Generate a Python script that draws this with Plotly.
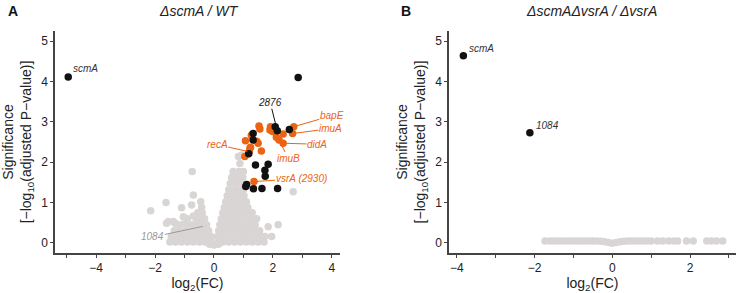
import plotly.graph_objects as go

# ---------------- Panel A data (ΔscmA / WT) ----------------
grayA_x = [
    -2.15, -1.63, -0.74, -0.70, -0.45, -0.76, -1.10, -1.04, -0.70, -1.55, -1.32, -1.04, -1.15,
    2.69, 2.18, 1.96, 1.73, 1.84, 0.83, 0.88, 0.94, -1.38, -1.61,
    -1.5, -1.3, -1.1, -0.9, -0.7, -0.5, -0.3, -0.1, 0.1, 0.3, 0.5, 0.7, 0.9, 1.1, 1.3, 1.5, 1.7, 0.0, -0.15, 0.15,
    -1.45, -1.25, -1.05, -0.85, -0.65, -0.45, -0.25, -0.08, 0.12, 0.3, 0.5, 0.7, 0.9, 1.1, 1.3, 1.5, 1.65,
    -1.35, -1.15, -0.95, -0.75, -0.55, -0.35, -0.18, 0.16, 0.35, 0.55, 0.75, 0.95, 1.15, 1.35, 1.55,
    -1.2, -0.95, -0.75, -0.55, -0.38, -0.25, 0.2, 0.4, 0.6, 0.8, 1.0, 1.2, 1.4,
    -0.9, -0.6, -0.45, -0.32, 0.25, 0.45, 0.65, 0.85, 1.05, 1.25, 1.45,
    -0.55, -0.4, 0.3, 0.5, 0.7, 0.9, 1.1, 1.3,
    -0.42, 0.35, 0.55, 0.75, 0.95, 1.15,
    0.4, 0.6, 0.8, 1.0, 1.1,
    0.45, 0.65, 0.85, 1.02,
    0.5, 0.7, 0.9, 1.0,
    0.55, 0.75, 0.95,
    0.6, 0.8, 0.98,
    0.65, 0.85, 1.0,
]
grayA_y = [
    0.80, 1.00, 1.77, 1.19, 1.02, 0.94, 0.87, 0.65, 0.67, 0.53, 0.49, 0.47, 0.20,
    1.27, 0.45, 0.16, 0.16, 0.40, 2.14, 1.97, 2.18, 0.53, 0.49,
    0.02, 0.02, 0.02, 0.02, 0.02, 0.02, 0.02, 0.0, 0.0, 0.02, 0.02, 0.02, 0.02, 0.02, 0.02, 0.02, 0.02, -0.05, -0.03, -0.03,
    0.15, 0.15, 0.15, 0.15, 0.15, 0.15, 0.15, 0.15, 0.15, 0.15, 0.15, 0.15, 0.15, 0.15, 0.15, 0.15, 0.15,
    0.3, 0.3, 0.3, 0.3, 0.3, 0.3, 0.3, 0.3, 0.3, 0.3, 0.3, 0.3, 0.3, 0.3, 0.3,
    0.45, 0.45, 0.45, 0.45, 0.45, 0.45, 0.45, 0.45, 0.45, 0.45, 0.45, 0.45, 0.45,
    0.6, 0.6, 0.6, 0.6, 0.6, 0.6, 0.6, 0.6, 0.6, 0.6, 0.6,
    0.75, 0.75, 0.75, 0.75, 0.75, 0.75, 0.75, 0.75,
    0.88, 0.88, 0.88, 0.88, 0.88, 0.88,
    1.02, 1.02, 1.02, 1.02, 1.02,
    1.17, 1.17, 1.17, 1.17,
    1.32, 1.32, 1.32, 1.32,
    1.47, 1.47, 1.47,
    1.62, 1.62, 1.62,
    1.77, 1.77, 1.77,
]

orangeA_x = [2.71, 2.67, 2.35, 1.92, 1.90, 1.99, 2.12, 2.21, 2.35, 1.53, 1.56, 1.27, 1.45,
             1.07, 1.24, 1.61, 1.20, 1.05, 1.36, 1.50, 1.22]
orangeA_y = [2.88, 2.71, 2.70, 2.88, 2.80, 2.76, 2.62, 2.55, 2.47, 2.90, 2.82, 2.67, 2.52,
             2.53, 2.37, 2.28, 2.26, 2.14, 1.52, 2.47, 2.34]

blackA_x = [-4.95, 2.86, 2.08, 2.15, 2.56, 1.33, 1.33, 1.18, 1.41, 1.84, 1.73, 1.74,
            1.11, 1.08, 1.34, 1.63, 2.16]
blackA_y = [4.11, 4.10, 2.88, 2.78, 2.81, 2.71, 2.55, 2.21, 1.93, 1.95, 1.80, 1.65,
            1.45, 1.40, 1.34, 1.35, 1.35]

# labelled genes with leader lines (panel A)
labA_text = ["2876", "bapE", "imuA", "didA", "imuB", "recA", "vsrA (2930)", "1084"]
labA_x = [2.15, 2.71, 2.67, 2.35, 2.21, 1.20, 1.36, -0.31]
labA_y = [2.78, 2.88, 2.71, 2.47, 2.55, 2.26, 1.52, 0.42]
labA_kind = ["black", "orange", "orange", "orange", "orange", "orange", "orange", "gray"]

# ---------------- Panel B data (ΔscmAΔvsrA / ΔvsrA) ----------------
grayB_x = [-1.73, -1.6, -1.5, -1.4, -1.3, -1.2, -1.1, -1.0, -0.9, -0.8, -0.7, -0.6, -0.5,
           -0.4, -0.3, -0.2, -0.1, 0.0, 0.1, 0.2, 0.3, 0.4, 0.5, 0.6, 0.7, 0.8, 0.9, 1.0,
           1.16, 1.3, 1.45, 1.58, 1.68, 1.91, 2.08, 2.43, 2.55, 2.68, 2.84]
grayB_y = [0.05, 0.05, 0.05, 0.05, 0.05, 0.05, 0.05, 0.05, 0.05, 0.05, 0.05, 0.05, 0.05,
           0.05, 0.04, 0.03, 0.01, -0.01, 0.01, 0.03, 0.04, 0.05, 0.05, 0.05, 0.05, 0.05, 0.05, 0.05,
           0.05, 0.05, 0.05, 0.05, 0.05, 0.05, 0.05, 0.05, 0.05, 0.05, 0.05]
blackB_x = [-3.83, -2.12]
blackB_y = [4.64, 2.73]
labB_text = ["scmA", "1084"]

# axis ticks: a tick mark at every integer, a label at every even value
x_tick_vals = [-5, -4, -3, -2, -1, 0, 1, 2, 3, 4]
x_tick_text = ["", "−4", "", "−2", "", "0", "", "2", "", "4"]
y_vals = [0, 1, 2, 3, 4, 5]

GRAY = "#d9d5d5"
ORANGE = "#ea6414"
BLACK = "#111111"
AXC = "#444444"
FONT = "Liberation Sans, Arial, sans-serif"
MS = 7.5

XA_RANGE = [-5.40, 4.28]
XB_RANGE = [-4.20, 3.18]
DOM_A = [0.0746, 0.4613]
DOM_B = [0.6092, 0.9986]
DOM_Y = [0.1365, 0.894]

fig = go.Figure()
fig.add_trace(go.Scatter(x=grayA_x, y=grayA_y, mode="markers", xaxis="x", yaxis="y",
                         marker=dict(color=GRAY, size=MS, line=dict(width=0))))
fig.add_trace(go.Scatter(x=orangeA_x, y=orangeA_y, mode="markers", xaxis="x", yaxis="y",
                         marker=dict(color=ORANGE, size=MS, line=dict(width=0))))
fig.add_trace(go.Scatter(x=blackA_x, y=blackA_y, mode="markers", xaxis="x", yaxis="y",
                         marker=dict(color=BLACK, size=MS, line=dict(width=0))))
fig.add_trace(go.Scatter(x=grayB_x, y=grayB_y, mode="markers", xaxis="x2", yaxis="y2",
                         marker=dict(color=GRAY, size=MS, line=dict(width=0))))
fig.add_trace(go.Scatter(x=blackB_x, y=blackB_y, mode="markers", xaxis="x2", yaxis="y2",
                         marker=dict(color=BLACK, size=MS, line=dict(width=0))))

ytitle = "Significance<br>[−log<sub>10</sub>(adjusted P−value)]"
common_x = dict(showline=True, linecolor=AXC, linewidth=1.5, showgrid=False, zeroline=False,
                ticks="outside", ticklen=3, tickwidth=1, tickcolor=AXC,
                tickmode="array", tickvals=x_tick_vals, ticktext=x_tick_text,
                tickfont=dict(size=12, color="#222"),
                title=dict(text="log<sub>2</sub>(FC)", font=dict(size=14, color="#222"), standoff=4))
common_y = dict(showline=True, linecolor=AXC, linewidth=1.5, showgrid=False, zeroline=False,
                ticks="outside", ticklen=3, tickcolor=AXC, tickwidth=1,
                tickvals=y_vals, tickfont=dict(size=12, color="#222"),
                range=[-0.25, 5.25],
                title=dict(text=ytitle, font=dict(size=14, color="#222"), standoff=6))

fig.update_layout(
    width=737, height=293, margin=dict(l=0, r=0, t=0, b=0),
    paper_bgcolor="white", plot_bgcolor="white", showlegend=False,
    font=dict(family=FONT, color="#222"),
    xaxis=dict(common_x, domain=DOM_A, range=XA_RANGE, anchor="y"),
    yaxis=dict(common_y, domain=DOM_Y, anchor="x"),
    xaxis2=dict(common_x, domain=DOM_B, range=XB_RANGE, anchor="y2"),
    yaxis2=dict(common_y, domain=DOM_Y, anchor="x2"),
)

# leader offsets in pixels (label centre relative to point)
offsets = [(-7, -28), (38, -11), (38, -5), (34, 1), (9, 18), (-32, -7), (47, -3), (-52, 11)]
kind_col = {"black": ("#222222", "#111111"), "orange": (ORANGE, ORANGE), "gray": ("#9a9a9a", "#9a9a9a")}
for t, x, y, k, (ax, ay) in zip(labA_text, labA_x, labA_y, labA_kind, offsets):
    tc, lc = kind_col[k]
    fig.add_annotation(x=x, y=y, xref="x", yref="y", text=f"<i>{t}</i>", showarrow=True,
                       ax=ax, ay=ay, arrowhead=0, arrowwidth=1, arrowcolor=lc,
                       font=dict(size=10, color=tc, family=FONT), standoff=2, borderpad=0)

fig.add_annotation(x=blackA_x[0], y=blackA_y[0], xref="x", yref="y", text="<i>scmA</i>",
                   showarrow=False, xanchor="left", yanchor="middle", xshift=3, yshift=9,
                   font=dict(size=10, color="#333", family=FONT))
for t, x, y in zip(labB_text, blackB_x, blackB_y):
    fig.add_annotation(x=x, y=y, xref="x2", yref="y2", text=f"<i>{t}</i>",
                       showarrow=False, xanchor="left", yanchor="middle", xshift=4, yshift=7,
                       font=dict(size=10, color="#333", family=FONT))

# panel titles and letters
fig.add_annotation(x=0.27, y=0.995, xref="paper", yref="paper", text="<i>ΔscmA / WT</i>",
                   showarrow=False, xanchor="center", yanchor="top", font=dict(size=14, color="#222"))
fig.add_annotation(x=0.803, y=0.995, xref="paper", yref="paper", text="<i>ΔscmAΔvsrA / ΔvsrA</i>",
                   showarrow=False, xanchor="center", yanchor="top", font=dict(size=14, color="#222"))
fig.add_annotation(x=0.008, y=0.995, xref="paper", yref="paper", text="<b>A</b>",
                   showarrow=False, xanchor="left", yanchor="top", font=dict(size=14, color="#111"))
fig.add_annotation(x=0.541, y=0.995, xref="paper", yref="paper", text="<b>B</b>",
                   showarrow=False, xanchor="left", yanchor="top", font=dict(size=14, color="#111"))

fig.write_html("out.html")
